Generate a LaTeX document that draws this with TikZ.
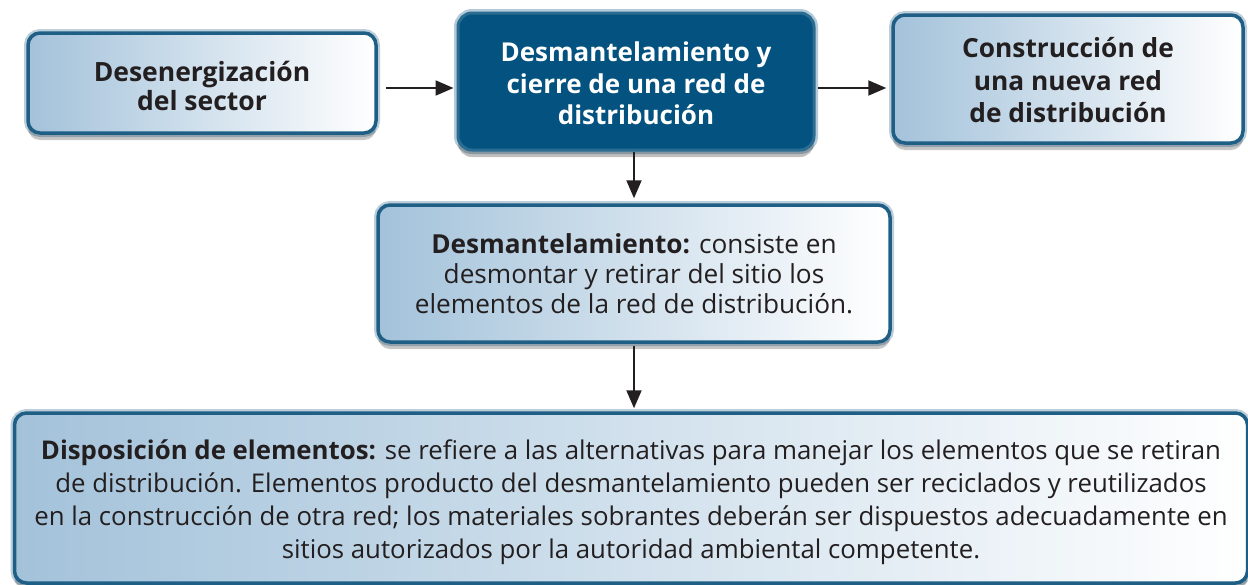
\documentclass[tikz,border=0pt]{standalone}
\usepackage{fontspec}
\setmainfont{Open Sans}
\usetikzlibrary{arrows.meta,shadows}
\definecolor{bordc}{HTML}{1F5F86}
\definecolor{darkc}{HTML}{04527F}
\definecolor{lightc}{HTML}{A3C2DA}
\definecolor{txtc}{HTML}{231F20}
\begin{document}
\begin{tikzpicture}[x=1pt,y=-1pt,
  lightbox/.style={draw=bordc, line width=3.5pt, rounded corners=12pt,
    preaction={draw=bordc, line width=8pt, draw opacity=0.3},
    left color=lightc, right color=white,
    drop shadow={shadow xshift=0pt, shadow yshift=-7pt, opacity=0.22, fill=black},
    align=center, inner sep=0pt, text=txtc},
  darkbox/.style={draw=darkc!85!white, line width=3pt, rounded corners=14pt,
    preaction={draw=darkc, line width=8pt, draw opacity=0.3},
    fill=darkc,
    drop shadow={shadow xshift=0pt, shadow yshift=-7pt, opacity=0.25, fill=black},
    align=center, inner sep=0pt, text=white},
  txt/.style={align=center, inner sep=0pt, text=txtc},
  arr/.style={draw=txtc, line width=2pt, -{Triangle[length=18pt,width=15pt]}}
]
\useasboundingbox (0,0) rectangle (1248,584);
\fill[white] (0,0) rectangle (1248,584);

\node[lightbox, minimum width=348pt, minimum height=100pt] (A) at (202,83) {};
\node[txt, font=\fontsize{26.5}{29}\selectfont\bfseries] (At) at ([yshift=-2.5pt]A.center)
  {Desenergización\\del sector};
\node[darkbox, minimum width=356pt, minimum height=137pt] (B) at (636,81.5) {};
\node[txt, text=white, font=\fontsize{26}{31.5}\selectfont\bfseries] (Bt) at ([yshift=-2pt]B.center)
  {Desmantelamiento y\\cierre de una red de\\distribución};
\node[lightbox, minimum width=350pt, minimum height=128pt] (C) at (1068,79) {};
\node[txt, font=\fontsize{26.3}{32.5}\selectfont\bfseries] (Ct) at ([yshift=-1.5pt]C.center)
  {Construcción de\\una nueva red\\de distribución};
\node[lightbox, minimum width=512pt, minimum height=137pt,
  font=\fontsize{26.2}{30}\selectfont] (D) at (634,273.5)
  {\textbf{Desmantelamiento:} consiste en\\desmontar y retirar del sitio los\\elementos de la red de distribución.};
\node[lightbox, minimum width=1233pt, minimum height=170pt] (E) at (631,498) {};
\node[txt, font=\fontsize{25.8}{33}\selectfont] (Et) at ([yshift=-4pt]E.center)
  {\textbf{Disposición de elementos:} se refiere a las alternativas para manejar los elementos que se retiran\\
   de distribución. Elementos producto del desmantelamiento pueden ser reciclados y reutilizados\\
   en la construcción de otra red; los materiales sobrantes deberán ser dispuestos adecuadamente en\\
   sitios autorizados por la autoridad ambiental competente.};

\draw[arr, shorten <=8pt, shorten >=3pt] ([yshift=-5pt]A.east) -- ([yshift=-5pt]A.east -| B.west);
\draw[arr, shorten <=2pt, shorten >=5pt] ([yshift=-6.5pt]B.east) -- ([yshift=-6.5pt]B.east -| C.west);
\draw[arr, shorten <=0pt, shorten >=5pt] (B.south -| D.north) -- (D.north);
\draw[arr, shorten <=2pt, shorten >=3pt] (D.south) -- (D.south |- E.north);
\end{tikzpicture}
\end{document}
